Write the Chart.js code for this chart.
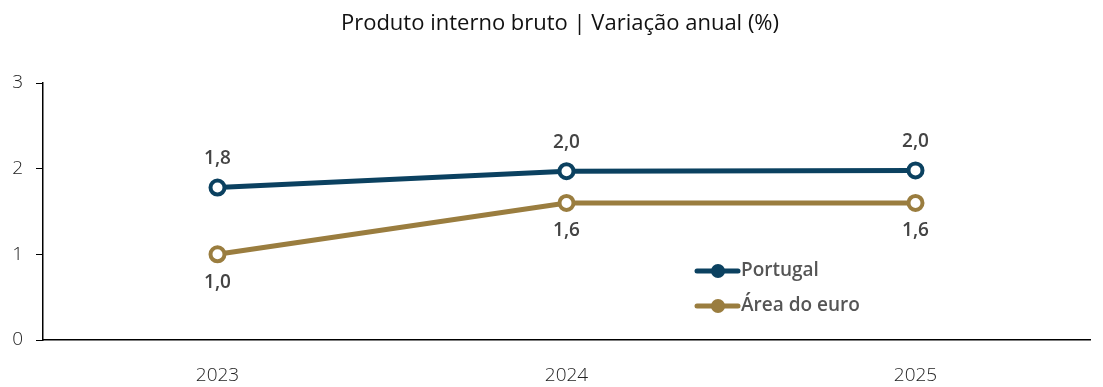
<!DOCTYPE html>
<html>
<head>
<meta charset="utf-8">
<script src="https://cdn.jsdelivr.net/npm/chart.js@4/dist/chart.umd.min.js"></script>
<style>
  html, body { margin: 0; padding: 0; background: #fff; }
  #wrap { width: 1103px; height: 387px; }
</style>
</head>
<body>
<div id="wrap"><canvas id="myChart" width="1103" height="387"></canvas></div>
<script>
const years = ["2023", "2024", "2025"];
const portugal = [1.78, 1.97, 1.98];
const euroArea = [1.0, 1.6, 1.6];
const yTicks = [0, 1, 2, 3];

const chartTitle = "Produto interno bruto | Variação anual (%)";
const fontFam = "'Open Sans', 'Noto Sans', sans-serif";

// labels over/under the points, decimal comma
const pointLabels = {
  id: "pointLabels",
  afterDatasetsDraw(chart) {
    const ctx = chart.ctx;
    ctx.save();
    ctx.font = "600 19px " + fontFam;
    ctx.fillStyle = "#444";
    ctx.textAlign = "center";
    ctx.textBaseline = "middle";
    chart.data.datasets.forEach((ds, i) => {
      const meta = chart.getDatasetMeta(i);
      meta.data.forEach((pt, j) => {
        const txt = ds.data[j].toFixed(1).replace(".", ",");
        const dy = ds.labelPos === "above" ? -29 : 28;
        ctx.fillText(txt, pt.x, pt.y + dy);
      });
    });
    ctx.restore();
  }
};

// title + legend placed inside the plot
const extras = {
  id: "extras",
  afterDraw(chart) {
    const ctx = chart.ctx;
    const area = chart.chartArea;
    ctx.save();
    ctx.font = "22px " + fontFam;
    ctx.fillStyle = "#111";
    ctx.textAlign = "center";
    ctx.textBaseline = "middle";
    ctx.fillText(chartTitle, 560, 24);

    const lx = area.left + 654;
    let ly = area.top + 188;
    chart.data.datasets.forEach(ds => {
      ctx.strokeStyle = ds.borderColor;
      ctx.lineWidth = 5;
      ctx.lineCap = "round";
      ctx.beginPath();
      ctx.moveTo(lx, ly);
      ctx.lineTo(lx + 41, ly);
      ctx.stroke();
      ctx.fillStyle = ds.borderColor;
      ctx.beginPath();
      ctx.arc(lx + 21, ly, 7, 0, Math.PI * 2);
      ctx.fill();
      ctx.font = "600 19px " + fontFam;
      ctx.fillStyle = "#555";
      ctx.textAlign = "left";
      ctx.fillText(ds.label, lx + 44, ly);
      ly += 35;
    });
    ctx.restore();
  }
};

const ctx = document.getElementById("myChart").getContext("2d");
const myChart = new Chart(ctx, {
  type: "line",
  data: {
    labels: years,
    datasets: [
      {
        label: "Portugal",
        data: portugal,
        borderColor: "#0b4160",
        backgroundColor: "#fff",
        borderWidth: 5,
        pointRadius: 7,
        pointBorderWidth: 4,
        pointBackgroundColor: "#fff",
        labelPos: "above"
      },
      {
        label: "Área do euro",
        data: euroArea,
        borderColor: "#9a7d3f",
        backgroundColor: "#fff",
        borderWidth: 5,
        pointRadius: 7,
        pointBorderWidth: 4,
        pointBackgroundColor: "#fff",
        labelPos: "below"
      }
    ]
  },
  options: {
    responsive: false,
    animation: false,
    layout: { padding: { top: 83, right: 13, left: 0, bottom: 0 } },
    plugins: {
      legend: { display: false },
      title: { display: false },
      tooltip: { enabled: false }
    },
    scales: {
      x: {
        offset: true,
        grid: { display: false },
        border: { display: true, color: "#000", width: 1.5 },
        ticks: { color: "#222", font: { family: fontFam, size: 19, weight: 300 }, padding: 16 },
        afterFit(scale) { scale.height = 47; }
      },
      y: {
        min: 0,
        max: 3,
        afterBuildTicks(scale) { scale.ticks = yTicks.map(v => ({ value: v })); },
        grid: { drawOnChartArea: false, drawTicks: true, tickLength: 7, color: "#000" },
        border: { display: true, color: "#000", width: 1.5 },
        ticks: { color: "#222", font: { family: fontFam, size: 19, weight: 300 }, padding: 13 },
        afterFit(scale) { scale.width = 43; }
      }
    }
  },
  plugins: [pointLabels, extras]
});
</script>
</body>
</html>
